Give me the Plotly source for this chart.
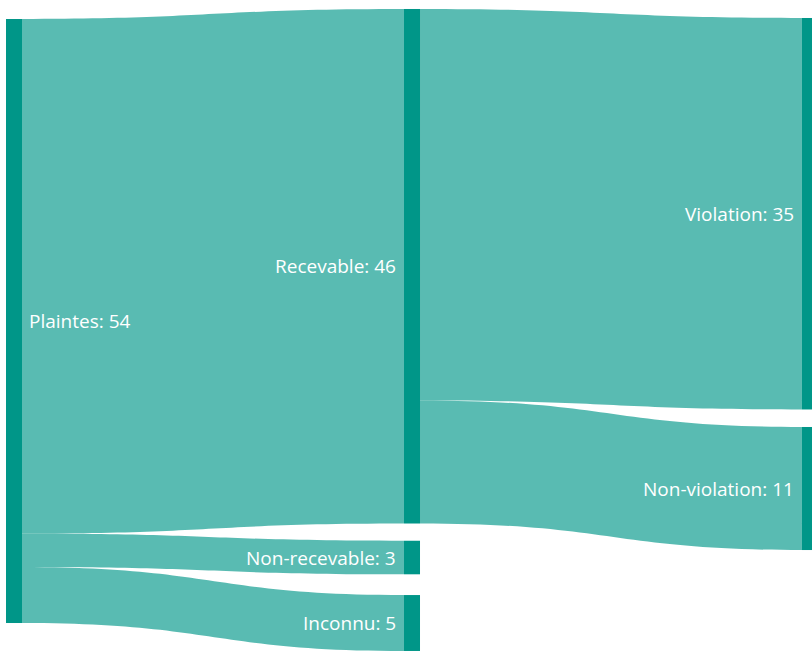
import plotly.graph_objects as go

# ---- Data ----
node_names = ["Plaintes", "Recevable", "Non-recevable", "Inconnu", "Violation", "Non-violation"]
node_values = [54, 46, 3, 5, 35, 11]
link_source = [0, 0, 0, 1, 1]
link_target = [1, 2, 3, 4, 5]
link_value = [46, 3, 5, 35, 11]

node_labels = [f"{n}: {v}" for n, v in zip(node_names, node_values)]

# ---- Layout (node centres, normalised to the plot area) ----
node_x = [0.01724, 0.5074, 0.5074, 0.5074, 0.9975, 0.9975]
node_y = [0.4860, 0.4007, 0.8544, 0.9564, 0.3189, 0.7469]

NODE_COLOR = "rgb(0,150,136)"
LINK_COLOR = "rgba(0,150,136,0.65)"
THICK = 16
FONT = dict(family="Open Sans", size=19, color="white")

fig = go.Figure(go.Sankey(
    arrangement="fixed",
    node=dict(
        label=[""] * len(node_names),
        customdata=node_labels,
        hovertemplate="%{customdata}<extra></extra>",
        x=node_x,
        y=node_y,
        pad=19,
        thickness=THICK,
        color=NODE_COLOR,
        line=dict(width=0),
        align="left",
    ),
    link=dict(
        source=link_source,
        target=link_target,
        value=link_value,
        color=LINK_COLOR,
    ),
))

# Node labels (white, inside the flows, placed beside each node)
for lab, x, y in zip(node_labels, node_x, node_y):
    on_right = x < 0.5
    fig.add_annotation(
        text=lab,
        xref="paper", yref="paper",
        x=x, y=1 - y,
        xanchor="left" if on_right else "right",
        yanchor="middle",
        xshift=(THICK / 2 + 5) if on_right else -(THICK / 2 + 6),
        yshift=0,
        showarrow=False,
        font=FONT,
    )

fig.update_layout(
    width=812,
    height=651,
    margin=dict(l=0, r=0, t=9, b=0),
    paper_bgcolor="white",
    plot_bgcolor="white",
)

fig.write_html("out.html")
